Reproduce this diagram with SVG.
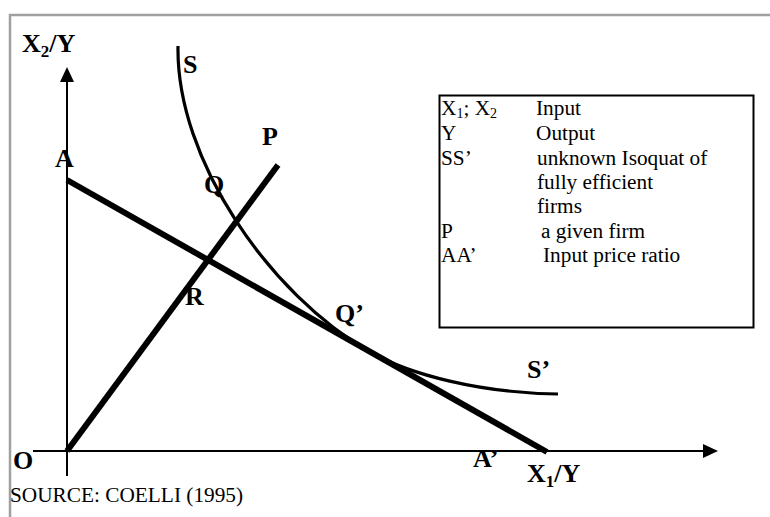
<svg xmlns="http://www.w3.org/2000/svg" width="770" height="517" viewBox="0 0 770 517">
<defs>
<style>
.frame{stroke:#a0a0a0;stroke-width:2.5;fill:none}
.axis{stroke:#000;stroke-width:2;fill:none}
.thick{stroke:#000;stroke-width:6;fill:none;stroke-linecap:butt}
.curve{stroke:#000;stroke-width:3.2;fill:none}
.lbl{font-family:"Liberation Serif","Times New Roman",serif;font-weight:bold;font-size:26px;fill:#000}
.leg{font-family:"Liberation Serif","Times New Roman",serif;font-size:21.3px;fill:#000}
.src{font-family:"Liberation Serif","Times New Roman",serif;font-size:21.3px;fill:#000}
</style>
<marker id="arr" viewBox="0 0 15 14" refX="0" refY="7" markerWidth="15" markerHeight="14" markerUnits="userSpaceOnUse" orient="auto">
<path d="M0,0 L15,7 L0,14 Z" fill="#000"/>
</marker>
</defs>
<rect width="770" height="517" fill="#fff"/>
<g id="frame">
<path class="frame" d="M10,517 V15 H770"/>
</g>
<g id="axes">
<path class="axis" d="M67,476 V82" marker-end="url(#arr)"/>
<path class="axis" d="M33,451 H703" marker-end="url(#arr)"/>
</g>
<g id="connectors">
<path id="line-AA" class="thick" d="M67,180 L547,452"/>
<path id="line-OP" class="thick" d="M67,451 L278,165"/>
<path id="isoquant-SS" class="curve" d="M178,46 C176,160 270,295 370,352 C410,374.7 480,393 558,394"/>
</g>
<g id="labels">
<text class="lbl" x="22" y="52">X<tspan font-size="17" dy="5">2</tspan><tspan dy="-5">/Y</tspan></text>
<text class="lbl" x="183" y="73">S</text>
<text class="lbl" x="55" y="167">A</text>
<text class="lbl" x="262" y="145">P</text>
<text class="lbl" x="204" y="193">Q</text>
<text class="lbl" x="185" y="305">R</text>
<text class="lbl" x="335" y="322">Q’</text>
<text class="lbl" x="527" y="378">S’</text>
<text class="lbl" x="13" y="469">O</text>
<text class="lbl" x="473" y="467">A’</text>
<text class="lbl" x="527" y="482">X<tspan font-size="17" dy="5">1</tspan><tspan dy="-5">/Y</tspan></text>
</g>
<g id="legend">
<rect x="439.5" y="95.5" width="314" height="232" fill="#fff" stroke="#000" stroke-width="2"/>
<text class="leg" x="441" y="115">X<tspan font-size="14" dy="3">1</tspan><tspan dy="-3">; X</tspan><tspan font-size="14" dy="3">2</tspan></text>
<text class="leg" x="536" y="115">Input</text>
<text class="leg" x="441" y="140">Y</text>
<text class="leg" x="536" y="140">Output</text>
<text class="leg" x="441" y="165">SS’</text>
<text class="leg" x="537" y="165">unknown Isoquat of</text>
<text class="leg" x="537" y="189">fully efficient</text>
<text class="leg" x="537" y="213">firms</text>
<text class="leg" x="441" y="238">P</text>
<text class="leg" x="541" y="238">a given firm</text>
<text class="leg" x="441" y="262">AA’</text>
<text class="leg" x="543" y="262">Input price ratio</text>
</g>
<g id="source">
<text class="src" x="10" y="502">SOURCE: COELLI (1995)</text>
</g>
</svg>
